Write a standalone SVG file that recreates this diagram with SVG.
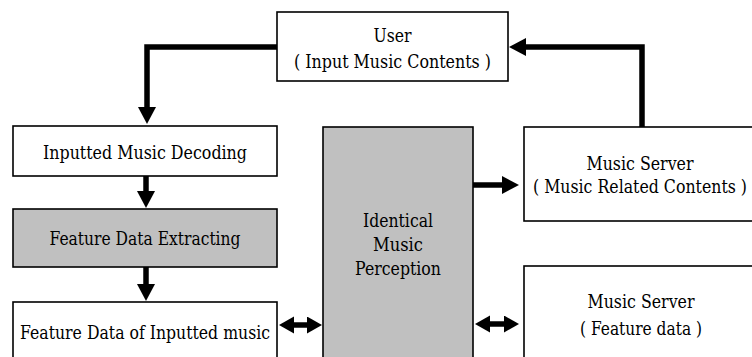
<svg xmlns="http://www.w3.org/2000/svg" width="752" height="357" viewBox="0 0 752 357">
<style>
.box{fill:#ffffff;stroke:#000000;stroke-width:1.6}
.gray{fill:#c0c0c0;stroke:#000000;stroke-width:1.6}
text{font-family:'DejaVu Serif','Liberation Serif',serif;font-size:18px;fill:#000000;text-anchor:middle}
.c{fill:none;stroke:#000000;stroke-width:5.5;stroke-linejoin:miter}
</style>
<defs>
<marker id="ah" markerUnits="userSpaceOnUse" markerWidth="18" markerHeight="18" refX="1" refY="9" orient="auto-start-reverse">
<path d="M0,0 L17,9 L0,18 z" fill="#000000"/>
</marker>
<marker id="ah2" markerUnits="userSpaceOnUse" markerWidth="16" markerHeight="18" refX="1" refY="8.5" orient="auto-start-reverse">
<path d="M0,0 L15,8.5 L0,17 z" fill="#000000"/>
</marker>
</defs>
<rect width="752" height="357" fill="#ffffff"/>
<g id="user">
<rect class="box" x="277" y="12" width="231" height="69"/>
<text x="392.5" y="42" textLength="38" lengthAdjust="spacingAndGlyphs">User</text>
<text x="392.5" y="68" textLength="197" lengthAdjust="spacingAndGlyphs">( Input Music Contents )</text>
</g>
<g id="decoding">
<rect class="box" x="13" y="126" width="264" height="50"/>
<text x="145" y="159" textLength="204" lengthAdjust="spacingAndGlyphs">Inputted Music Decoding</text>
</g>
<g id="extracting">
<rect class="gray" x="13" y="209" width="264" height="58"/>
<text x="145" y="245" textLength="191" lengthAdjust="spacingAndGlyphs">Feature Data Extracting</text>
</g>
<g id="featuredata">
<rect class="box" x="13" y="302" width="264" height="70"/>
<text x="145" y="339" textLength="250" lengthAdjust="spacingAndGlyphs">Feature Data of Inputted music</text>
</g>
<g id="perception">
<rect class="gray" x="323" y="127" width="150" height="245"/>
<text x="398" y="227" textLength="70" lengthAdjust="spacingAndGlyphs">Identical</text>
<text x="398" y="251" textLength="50" lengthAdjust="spacingAndGlyphs">Music</text>
<text x="398" y="275" textLength="86" lengthAdjust="spacingAndGlyphs">Perception</text>
</g>
<g id="server-contents">
<rect class="box" x="524" y="127" width="236" height="94"/>
<text x="640" y="170" textLength="107" lengthAdjust="spacingAndGlyphs">Music Server</text>
<text x="640" y="193" textLength="214" lengthAdjust="spacingAndGlyphs">( Music Related Contents )</text>
</g>
<g id="server-feature">
<rect class="box" x="524" y="266" width="236" height="106"/>
<text x="641" y="308" textLength="107" lengthAdjust="spacingAndGlyphs">Music Server</text>
<text x="641" y="335" textLength="122" lengthAdjust="spacingAndGlyphs">( Feature data )</text>
</g>
<g id="connectors">
<path class="c" d="M277,47 H147 V108" marker-end="url(#ah)"/>
<path class="c" d="M642,127 V47 H525" marker-end="url(#ah)"/>
<path class="c" d="M146,176 V192" marker-end="url(#ah)"/>
<path class="c" d="M146,267 V285" marker-end="url(#ah)"/>
<path class="c" d="M473,185 H503" marker-end="url(#ah)"/>
<path class="c" d="M293,325 H308" marker-start="url(#ah2)" marker-end="url(#ah2)"/>
<path class="c" d="M489,324 H505" marker-start="url(#ah2)" marker-end="url(#ah2)"/>
</g>
</svg>
